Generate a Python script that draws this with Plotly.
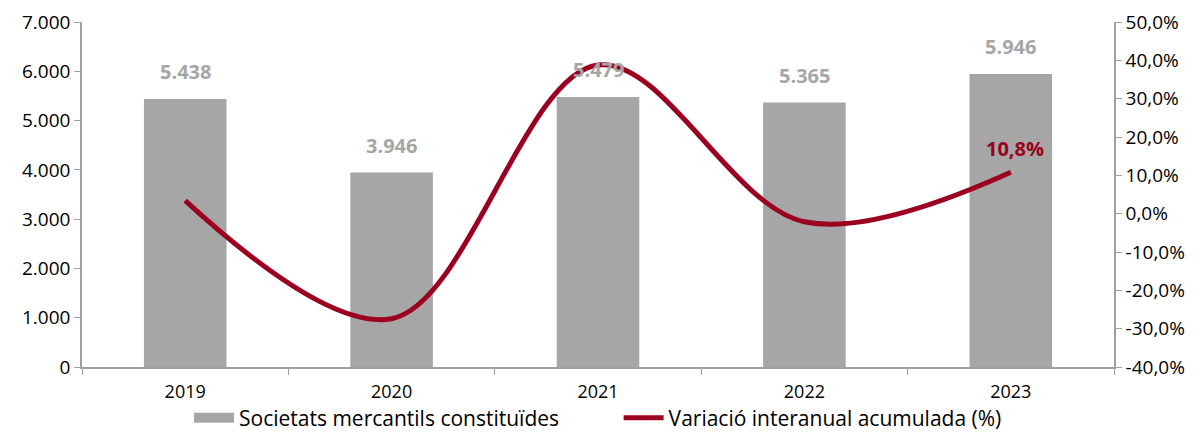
import plotly.graph_objects as go

years = ["2019", "2020", "2021", "2022", "2023"]
societats = [5438, 3946, 5479, 5365, 5946]
variacio = [3.4, -27.4, 38.8, -2.1, 10.8]
bar_labels = ["5.438", "3.946", "5.479", "5.365", "5.946"]
left_ticks = [0, 1000, 2000, 3000, 4000, 5000, 6000, 7000]
left_tick_text = ["0", "1.000", "2.000", "3.000", "4.000", "5.000", "6.000", "7.000"]
right_ticks = [-40, -30, -20, -10, 0, 10, 20, 30, 40, 50]
right_tick_text = ["-40,0%", "-30,0%", "-20,0%", "-10,0%", "0,0%", "10,0%", "20,0%", "30,0%", "40,0%", "50,0%"]

GRAY = "#A6A6A6"
RED = "#9C0021"
FONT = "Open Sans"
PAD = "&nbsp;" * 10

fig = go.Figure()
fig.add_trace(go.Bar(
    x=years, y=societats, name="Societats mercantils constituïdes",
    marker=dict(color=GRAY, line=dict(width=0)), showlegend=False,
))
# legend proxy for the bar series (wide gray swatch)
fig.add_trace(go.Scatter(
    x=[None], y=[None], name="Societats mercantils constituïdes" + PAD,
    mode="lines", line=dict(color=GRAY, width=20), showlegend=True,
))
fig.add_trace(go.Scatter(
    x=years, y=variacio, name="Variació interanual acumulada (%)",
    mode="lines", line=dict(color=RED, width=5, shape="spline", smoothing=1.0),
    yaxis="y2",
))

# annotations placed by category index (category names look numeric)
for i, (v, t) in enumerate(zip(societats, bar_labels)):
    fig.add_annotation(x=i, y=v, text=f"<b>{t}</b>", showarrow=False,
                       yshift=27, font=dict(family=FONT, size=20, color=GRAY))

fig.add_annotation(x=len(years) - 1, y=variacio[-1], yref="y2", text="<b>10,8%</b>",
                   showarrow=False, yshift=24, xshift=4,
                   font=dict(family=FONT, size=20, color=RED))

fig.update_layout(
    width=1196, height=425,
    margin=dict(l=74, r=90, t=14, b=66, autoexpand=False),
    paper_bgcolor="white", plot_bgcolor="white",
    font=dict(family=FONT, size=16, color="#000000"),
    bargap=0.6,
    showlegend=True,
    legend=dict(orientation="h", x=0.5, xanchor="center",
                yref="container", y=0.035, yanchor="middle",
                font=dict(family=FONT, size=21, color="#000000"),
                itemwidth=40, tracegroupgap=0, bgcolor="rgba(0,0,0,0)"),
    xaxis=dict(
        type="category", range=[-0.5, len(years) - 0.5], categoryorder="array",
        categoryarray=years,
        showline=True, linecolor="#A0A0A0", linewidth=1.5,
        ticks="outside", tickson="boundaries", ticklen=6, tickcolor="#A0A0A0",
        ticklabelstandoff=8,
        showgrid=False, tickfont=dict(size=18),
    ),
    yaxis=dict(
        range=[0, 7000], tickvals=left_ticks, ticktext=left_tick_text,
        showline=True, linecolor="#A0A0A0", linewidth=1.5,
        ticks="outside", ticklen=6, tickcolor="#A0A0A0",
        showgrid=False, zeroline=False, tickfont=dict(size=19),
    ),
    yaxis2=dict(
        range=[-40, 50], tickvals=right_ticks, ticktext=right_tick_text,
        overlaying="y", side="right",
        showline=True, linecolor="#A0A0A0", linewidth=1.5,
        ticks="outside", ticklen=6, tickcolor="#A0A0A0",
        showgrid=False, zeroline=False, tickfont=dict(size=19),
    ),
)

fig.write_html("out.html")
